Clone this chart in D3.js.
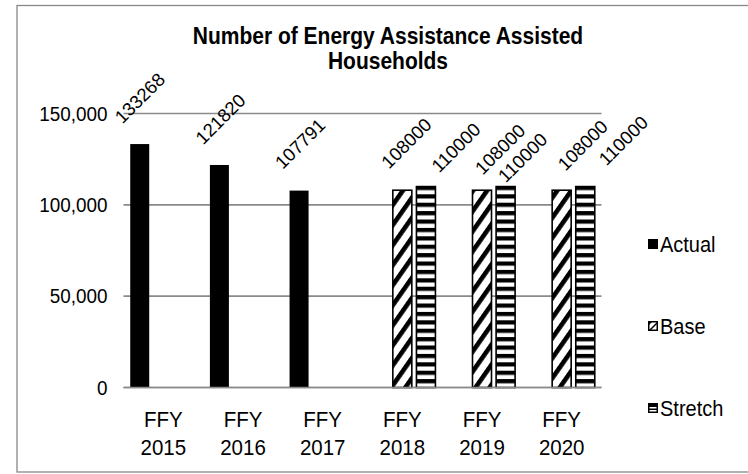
<!DOCTYPE html>
<html>
<head>
<meta charset="utf-8">
<script src="https://cdn.jsdelivr.net/npm/d3@7/dist/d3.min.js"></script>
<style>
  html, body { margin: 0; padding: 0; background: #fff; }
  svg { display: block; font-family: "Liberation Sans", Arial, sans-serif; }
</style>
</head>
<body>
<svg id="chart" width="748" height="474"></svg>
<script>
// Households assisted per federal fiscal year
const categories = ["FFY 2015", "FFY 2016", "FFY 2017", "FFY 2018", "FFY 2019", "FFY 2020"];
const seriesNames = ["Actual", "Base", "Stretch"];
const actualValues = [133268, 121820, 107791, null, null, null];
const baseValues = [null, null, null, 108000, 108000, 108000];
const stretchValues = [null, null, null, 110000, 110000, 110000];
const yTicks = [0, 50000, 100000, 150000];
const titleLines = ["Number of Energy Assistance Assisted", "Households"];

// label placement tweaks (dx, dy from the bar top centre), per series and year
const labelNudge = {
  Actual:  [[0, -46], [1, -46], [1, -47], null, null, null],
  Base:    [null, null, null, [4, -47], [18, -41], [21, -45]],
  Stretch: [null, null, null, [30, -39], [17, -29], [38, -46]]
};

const svg = d3.select("#chart");
const font = '"Liberation Sans", Arial, sans-serif';
const tall = 1.08;   // glyphs are drawn slightly taller than wide

const plot = { left: 123.5, right: 601.5, top: 113.5, bottom: 387.5 };

const x = d3.scaleBand().domain(categories).range([plot.left, plot.right]).paddingInner(0).paddingOuter(0);
const xSub = d3.scaleBand().domain(seriesNames).range([-33.1, 33.1]).paddingInner(0.195).paddingOuter(0);
const y = d3.scaleLinear().domain([0, 150000]).range([plot.bottom, plot.top]);

// patterns
const defs = svg.append("defs");
const diag = defs.append("pattern")
  .attr("id", "pat-base").attr("patternUnits", "userSpaceOnUse")
  .attr("width", 11.5).attr("height", 11.5)
  .attr("patternTransform", "rotate(-55)");
diag.append("rect").attr("width", 11.5).attr("height", 11.5).attr("fill", "#fff");
diag.append("rect").attr("width", 11.5).attr("height", 4.6).attr("fill", "#000");

const horiz = defs.append("pattern")
  .attr("id", "pat-stretch").attr("patternUnits", "userSpaceOnUse")
  .attr("width", 8).attr("height", 8.4).attr("y", plot.bottom);
horiz.append("rect").attr("width", 8).attr("height", 8.4).attr("fill", "#fff");
horiz.append("rect").attr("width", 8).attr("height", 4.2).attr("fill", "#000");

const fills = { Actual: "#000", Base: "url(#pat-base)", Stretch: "url(#pat-stretch)" };

// outer chart border
svg.append("rect")
  .attr("x", 17).attr("y", 5.5).attr("width", 760).attr("height", 466.5)
  .attr("fill", "none").attr("stroke", "#888").attr("stroke-width", 1.3);

// title
const title = svg.append("g").attr("transform", `translate(388,44) scale(1,1.14)`)
  .append("text")
  .attr("text-anchor", "middle").attr("font-weight", "bold")
  .attr("font-size", 21).attr("fill", "#000");
titleLines.forEach((t, i) => {
  title.append("tspan").attr("x", 0).attr("y", i * 25 / 1.14).text(t);
});

// gridlines and value axis
const yAxis = d3.axisLeft(y).tickValues(yTicks).tickFormat(d3.format(",")).tickSize(0).tickPadding(0);
const yg = svg.append("g").attr("transform", `translate(${plot.left},0)`).call(yAxis);
yg.select(".domain").remove();
yg.selectAll("text")
  .attr("x", -16).attr("font-size", 18.9).attr("font-family", font).attr("fill", "#000")
  .attr("transform", `scale(1,${tall})`);

svg.append("g").selectAll("line").data(yTicks).join("line")
  .attr("x1", plot.left).attr("x2", plot.right)
  .attr("y1", d => y(d)).attr("y2", d => y(d))
  .attr("stroke", "#8a8a8a").attr("stroke-width", 1.6);

// bars
const seriesData = [
  { name: "Actual", values: actualValues },
  { name: "Base", values: baseValues },
  { name: "Stretch", values: stretchValues }
];
const points = [];
seriesData.forEach(s => {
  s.values.forEach((v, i) => {
    if (v != null) points.push({ series: s.name, cat: categories[i], idx: i, value: v });
  });
});

const bx = d => x(d.cat) + x.bandwidth() / 2 + xSub(d.series);

svg.append("g").selectAll("rect").data(points).join("rect")
  .attr("x", d => bx(d))
  .attr("y", d => y(d.value))
  .attr("width", xSub.bandwidth())
  .attr("height", d => y(0) - y(d.value))
  .attr("fill", d => fills[d.series])
  .attr("stroke", "#000")
  .attr("stroke-width", d => d.series === "Actual" ? 0 : 1.6);

// category axis line on top of the zero gridline
svg.append("line")
  .attr("x1", plot.left).attr("x2", plot.right)
  .attr("y1", y(0)).attr("y2", y(0))
  .attr("stroke", "#8a8a8a").attr("stroke-width", 1.6);

// category labels (two lines)
const xg = svg.append("g");
categories.forEach(c => {
  const parts = c.split(" ");
  const t = xg.append("g")
    .attr("transform", `translate(${x(c) + x.bandwidth() / 2},427) scale(1,${tall})`)
    .append("text")
    .attr("text-anchor", "middle").attr("font-size", 20.5).attr("fill", "#000");
  parts.forEach((p, j) => {
    t.append("tspan").attr("x", 0).attr("y", j * 28 / tall).text(p);
  });
});

// value labels, rotated
svg.append("g").selectAll("text").data(points).join("text")
  .attr("text-anchor", "middle").attr("dominant-baseline", "central")
  .attr("font-size", 18.5).attr("fill", "#000")
  .attr("transform", d => {
    const n = labelNudge[d.series][d.idx] || [0, -46];
    const cx = bx(d) + xSub.bandwidth() / 2 + n[0];
    const cy = y(d.value) + n[1];
    return `translate(${cx},${cy}) rotate(-45)`;
  })
  .text(d => String(d.value));

// legend
const legendY = [244, 326, 408];
const lg = svg.append("g");
seriesNames.forEach((s, i) => {
  const g = lg.append("g").attr("transform", `translate(648,${legendY[i]})`);
  if (s === "Actual") {
    g.append("rect").attr("x", 0).attr("y", -5).attr("width", 10).attr("height", 10).attr("fill", "#000");
  } else if (s === "Base") {
    g.append("rect").attr("x", 0.75).attr("y", -4.25).attr("width", 8.5).attr("height", 8.5)
      .attr("fill", "#fff").attr("stroke", "#000").attr("stroke-width", 1.5);
    g.append("path").attr("d", "M1,-1 L1,-4 L4,-4 Z").attr("fill", "#000");
    g.append("path").attr("d", "M1,4 L9,-4 L9,-2 L3,4 Z").attr("fill", "#000");
  } else {
    g.append("rect").attr("x", 0.75).attr("y", -4.25).attr("width", 8.5).attr("height", 8.5)
      .attr("fill", "#fff").attr("stroke", "#000").attr("stroke-width", 1.5);
    g.append("rect").attr("x", 1).attr("y", -4).attr("width", 8).attr("height", 3).attr("fill", "#000");
    g.append("rect").attr("x", 1).attr("y", 0.5).attr("width", 8).attr("height", 1.5).attr("fill", "#000");
  }
  g.append("g").attr("transform", `translate(12,0) scale(1,${tall})`)
    .append("text").attr("x", 0).attr("y", 0).attr("dominant-baseline", "central")
    .attr("font-size", 20).attr("fill", "#000").text(s);
});
</script>
</body>
</html>
